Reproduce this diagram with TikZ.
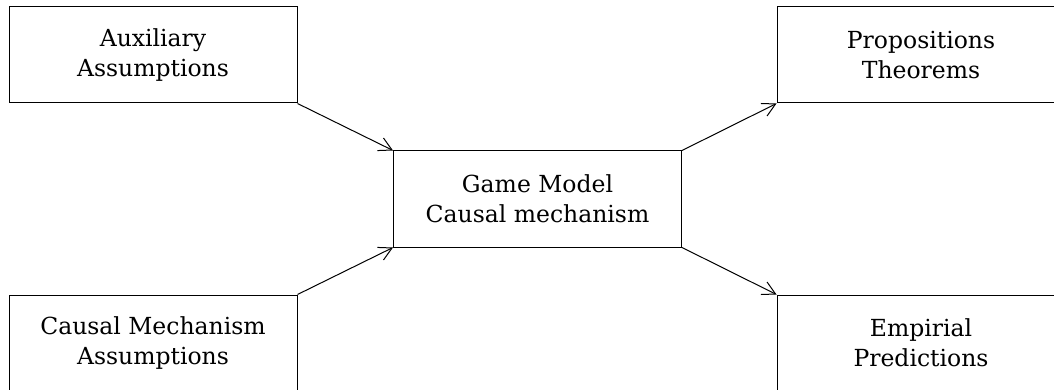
\documentclass[tikz,border=0pt]{standalone}
\usepackage{fontspec}
\setmainfont{DejaVu Serif}
\usetikzlibrary{arrows.meta}
\begin{document}
\begin{tikzpicture}[x=1pt,y=-1pt,
  box/.style={draw, line width=1pt, minimum width=288pt, minimum height=96pt, inner sep=0pt, align=center,
    font=\fontsize{23.5}{30}\selectfont},
  conn/.style={line width=1pt, -{Straight Barb[length=13pt,width=14pt,line width=1pt]}}]
\useasboundingbox (0,0) rectangle (1054,390);
\clip (0,0) rectangle (1054,390);
\node[box] (aux) at (153,55) {Auxiliary\\Assumptions};
\node[box] (cma) at (153,343) {Causal Mechanism\\Assumptions};
\node[box] (game) at (537.5,199) {Game Model\\Causal mechanism};
\node[box] (prop) at (921,55) {Propositions\\Theorems};
\node[box] (emp) at (921,343) {Empirial\\Predictions};
\draw[conn] (aux.south east) -- (game.north west);
\draw[conn] (cma.north east) -- (game.south west);
\draw[conn] (game.north east) -- (prop.south west);
\draw[conn] (game.south east) -- (emp.north west);
\end{tikzpicture}
\end{document}
